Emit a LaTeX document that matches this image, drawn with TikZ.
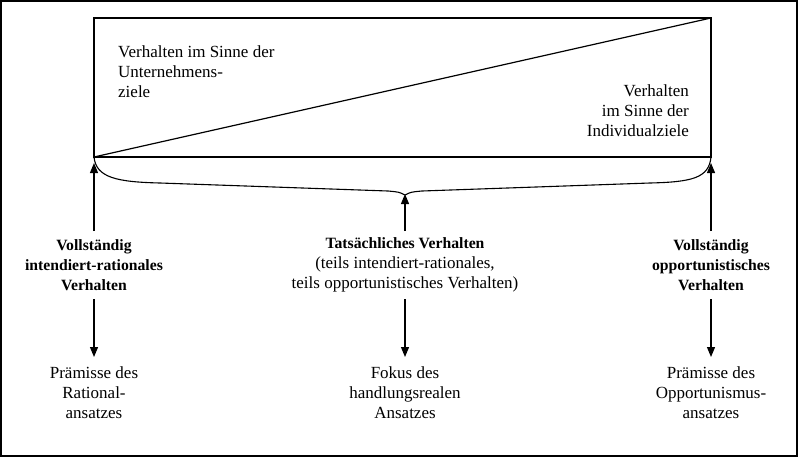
\documentclass[tikz,border=0pt]{standalone}
\usepackage{fontspec}
\setmainfont{Liberation Serif}
\usetikzlibrary{arrows.meta}
\begin{document}
\begin{tikzpicture}[x=1pt,y=-1pt,
  lbl/.style={font=\fontsize{17}{20}\selectfont, align=center, inner sep=0pt},
  blbl/.style={lbl, font=\fontsize{15.7}{20}\selectfont\bfseries},
  arr/.style={line width=1.2pt, -{Triangle[length=10pt,width=8pt]}},
  frame/.style={line width=1.3pt}]
\useasboundingbox (0,0) rectangle (798,458);
\draw[frame] (1,1) rectangle (797,456);
\coordinate (bl) at (94,157);
\coordinate (tr) at (711,18);
\coordinate (br) at (711,157);
\coordinate (tip) at (405,195);
\draw[frame] (94,18) rectangle (711,157);
\draw[line width=1.2pt] (bl) -- (tr);
\draw[line width=1.1pt] (bl) .. controls (96,178) and (118,182) .. (160,183) -- (388,191) .. controls (399,192) .. (tip) .. controls (411,192) .. (422,191) -- (650,183) .. controls (692,182) and (709,178) .. (br);
\node[lbl, align=left, anchor=north west] (tl) at (118,46) {Verhalten im Sinne der\\Unternehmens-\\ziele};
\node[lbl, align=right, anchor=north east] (trl) at (689,85) {Verhalten\\im Sinne der\\Individualziele};
\node[blbl] (a) at (94,265) {Vollständig\\intendiert-rationales\\Verhalten};
\node[lbl] (b) at (405,265) {{\fontsize{15.7}{20}\selectfont\bfseries Tatsächliches Verhalten}\\(teils intendiert-rationales,\\teils opportunistisches Verhalten)};
\node[blbl] (c) at (711,265) {Vollständig\\opportunistisches\\Verhalten};
\node[lbl] (a2) at (94,393) {Prämisse des\\Rational-\\ansatzes};
\node[lbl] (b2) at (405,393) {Fokus des\\handlungsrealen\\Ansatzes};
\node[lbl] (c2) at (711,393) {Prämisse des\\Opportunismus-\\ansatzes};
\coordinate (ua) at (94,231); \coordinate (ub) at (405,231); \coordinate (uc) at (711,231);
\coordinate (ta) at (94,163); \coordinate (tb) at (405,194); \coordinate (tc) at (711,163);
\draw[arr] (ua) -- (ta);
\draw[arr] (ub) -- (tb);
\draw[arr] (uc) -- (tc);
\coordinate (da) at (94,299); \coordinate (db) at (405,299); \coordinate (dc) at (711,299);
\coordinate (ea) at (94,357); \coordinate (eb) at (405,357); \coordinate (ec) at (711,357);
\draw[arr] (da) -- (ea);
\draw[arr] (db) -- (eb);
\draw[arr] (dc) -- (ec);
\end{tikzpicture}
\end{document}
